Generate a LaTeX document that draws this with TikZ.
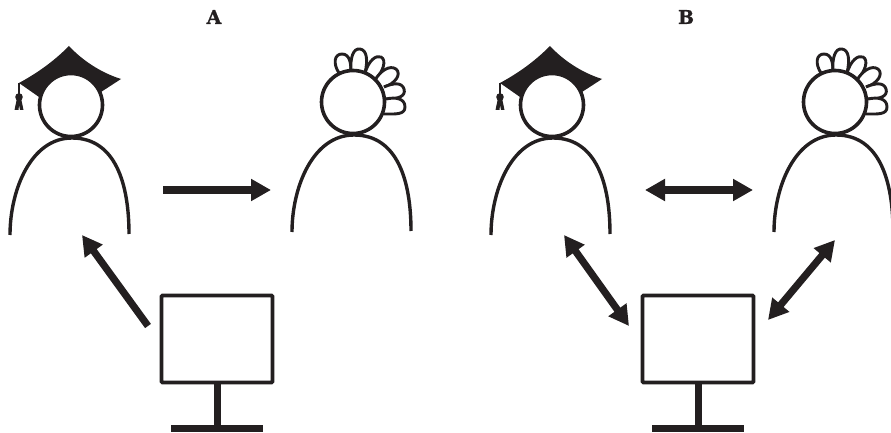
\documentclass[tikz,border=0pt]{standalone}
\usepackage{fontspec}
\setmainfont{DejaVu Serif}[BoldFeatures={FakeBold=1}]
\definecolor{inkblack}{RGB}{35,31,32}
\usetikzlibrary{arrows.meta}
\tikzset{
  headcircle/.style={draw=inkblack,line width=3.6pt,fill=white,circle,minimum size=63pt,inner sep=0pt},
  bodyline/.style={draw=inkblack,line width=3.4pt,line cap=butt},
  screenbox/.style={draw=inkblack,line width=3.6pt,fill=white,rounded corners=1pt,minimum width=111pt,minimum height=87pt,inner sep=0pt},
  paneltitle/.style={font=\bfseries\fontsize{19}{21}\selectfont,text=inkblack},
  onearrow/.style={draw=inkblack,line width=7.2pt,-{Triangle[length=20pt,width=21pt,fill=inkblack]},shorten >=0pt},
  botharrow/.style={draw=inkblack,line width=7.2pt,{Triangle[length=20pt,width=21pt,fill=inkblack]}-{Triangle[length=20pt,width=21pt,fill=inkblack]}},
  petal/.style={draw=inkblack,line width=2.9pt,fill=white,line join=round},
  pics/gradcap/.style={code={
    %% mortarboard, origin at the head centre
    \fill[inkblack] (-52,-22) .. controls (-30,-34) and (-15,-46) .. (-2,-59)
      .. controls (10,-46) and (28,-33) .. (50,-26) -- (30,-13) -- (0,-20) -- (-32,-8) -- cycle;
    \draw[inkblack,line width=1.5pt] (-52,-22) -- (-52,-8);
    \fill[inkblack] (-52,-8) circle (3.8pt);
    \fill[inkblack] (-54,-7) -- (-56.5,5) -- (-52.5,5) -- (-52,0) -- (-51,5) -- (-47.5,5) -- (-50,-7) -- cycle;
  }},
  pics/curls/.style={code={
    %% six petals, origin at the head centre
    \draw[petal] (-14,-29) .. controls (-20,-38) and (-19,-48) .. (-11,-48) .. controls (-3,-48) and (-2,-38) .. (-2,-30);
    \draw[petal] (-2,-30) .. controls (-3,-44) and (0,-54) .. (7,-53) .. controls (14,-52) and (15,-42) .. (12,-29);
    \draw[petal] (12,-29) .. controls (16,-42) and (23,-47) .. (28,-45) .. controls (34,-42) and (30,-30) .. (22,-22);
    \draw[petal] (22,-22) .. controls (28,-32) and (37,-37) .. (43,-33) .. controls (49,-28) and (42,-18) .. (31,-15);
    \draw[petal] (31,-15) .. controls (40,-19) and (49,-20) .. (51,-13) .. controls (53,-6) and (46,-3) .. (33,-3);
    \draw[petal] (33,-3) .. controls (42,-5) and (52,-4) .. (52,5) .. controls (52,13) and (42,12) .. (31,12);
  }},
  pics/bodyarc/.style={code={
    %% shoulders, origin at the head centre
    \draw[bodyline] (-61,130) .. controls (-61,85) and (-40,33) .. (1,33)
      .. controls (45,33) and (58,80) .. (58,129);
  }},
  pics/screenstand/.style={code={
    %% origin at the foot of the screen
    \draw[inkblack,line width=7pt] (0,0) -- (0,45);
    \draw[inkblack,line width=7pt] (-46,45) -- (46,45);
  }}
}
\begin{document}
\begin{tikzpicture}[x=1pt,y=-1pt]
  \clip (0,0) rectangle (891,433);
  %% Titles
  \node[paneltitle] (titleA) at (214,17) {A};
  \node[paneltitle] (titleB) at (686,17) {B};
  %% Panel A
  \pic at (71,105) {gradcap};
  \pic at (71,105) {bodyarc};
  \node[headcircle] (teacherA) at (71,105) {};
  \pic at (353,102) {curls};
  \pic at (353,102) {bodyarc};
  \node[headcircle] (learnerA) at (353,102) {};
  \pic at (217,383) {screenstand};
  \node[screenbox] (screenA) at (217,339) {};
  %% Panel B
  \pic at (552,105) {gradcap};
  \pic at (552,105) {bodyarc};
  \node[headcircle] (teacherB) at (552,105) {};
  \pic at (835,102) {curls};
  \pic at (835,102) {bodyarc};
  \node[headcircle] (learnerB) at (835,102) {};
  \pic at (698,383) {screenstand};
  \node[screenbox] (screenB) at (698,339) {};
  %% Arrow ends
  \coordinate (a1) at (163,190);
  \coordinate (a2) at (271,190);
  \coordinate (a3) at (148,326);
  \coordinate (a4) at (82,235);
  \coordinate (b1) at (645,190);
  \coordinate (b2) at (753,190);
  \coordinate (b3) at (629,326);
  \coordinate (b4) at (564,235);
  \coordinate (b5) at (768,320);
  \coordinate (b6) at (835,240);
  %% Arrows
  \draw[onearrow] (a1) -- (a2);
  \draw[onearrow] (a3) -- (a4);
  \draw[botharrow] (b1) -- (b2);
  \draw[botharrow] (b3) -- (b4);
  \draw[botharrow] (b5) -- (b6);
\end{tikzpicture}
\end{document}
